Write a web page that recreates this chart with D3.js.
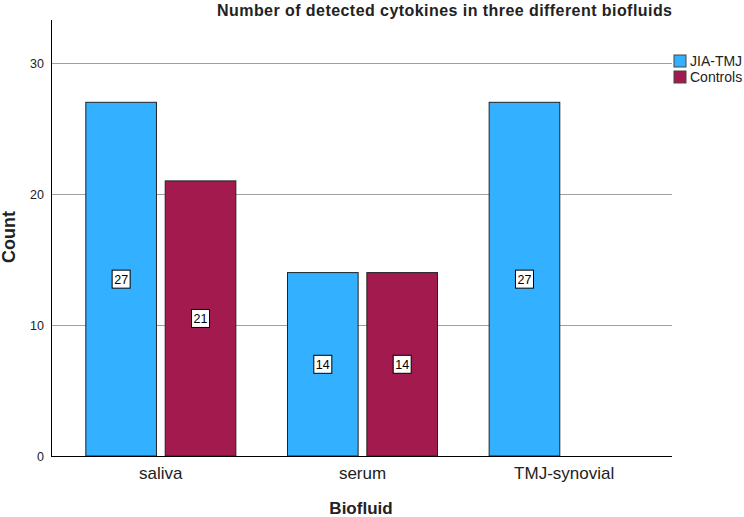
<!DOCTYPE html>
<html>
<head>
<meta charset="utf-8">
<title>Number of detected cytokines</title>
<script src="https://cdn.jsdelivr.net/npm/d3@7"></script>
<style>
  body { margin: 0; background: #fff; }
  text { font-family: "Liberation Sans", Arial, sans-serif; }
</style>
</head>
<body>
<script>
    var width = 744;
    var height = 517;

    var biofluids = ["saliva", "serum", "TMJ-synovial"];
    var groups = ["JIA-TMJ", "Controls"];
    var jiaCounts = [27, 14, 27];
    var controlCounts = [21, 14, 0];
    var yTicks = [0, 10, 20, 30];
    var colors = ["#33b0ff", "#a31a4e"];

    var rows = biofluids.map(function(b, i) {
        return { fluid: b, values: [jiaCounts[i], controlCounts[i]] };
    });

    var svg = d3.select("body")
        .append("svg")
        .attr("width", width)
        .attr("height", height);

    var axisLeft = 51, axisRight = 672, base = 456, axisTop = 20;

    var x = d3.scaleBand()
        .domain(biofluids)
        .range([60, 665])
        .paddingInner(0.256)
        .paddingOuter(0.128);
    var xs = d3.scaleBand()
        .domain(groups)
        .range([0, x.bandwidth()])
        .paddingInner(0.11);
    var y = d3.scaleLinear()
        .domain([0, (base - axisTop) / 13.1])
        .range([base, axisTop]);

    // grid
    svg.append("g")
        .selectAll("line")
        .data(yTicks.filter(function(d) { return d > 0; }))
        .enter()
        .append("line")
        .attr("x1", axisLeft)
        .attr("x2", axisRight)
        .attr("y1", function(d) { return Math.round(y(d)) + 0.5; })
        .attr("y2", function(d) { return Math.round(y(d)) + 0.5; })
        .attr("stroke", "#a0a0a0")
        .attr("stroke-width", 1);

    // bars
    var grp = svg.append("g")
        .selectAll("g")
        .data(rows)
        .enter()
        .append("g")
        .attr("transform", function(d) { return "translate(" + x(d.fluid) + ",0)"; });

    grp.selectAll("rect")
        .data(function(d) { return d.values.map(function(v, i) { return { key: groups[i], v: v, i: i }; }); })
        .enter()
        .append("rect")
        .attr("x", function(d) { return xs(d.key); })
        .attr("width", xs.bandwidth())
        .attr("y", function(d) { return y(d.v); })
        .attr("height", function(d) { return base - y(d.v); })
        .attr("fill", function(d) { return colors[d.i]; })
        .attr("stroke", function(d) { return d.v > 0 ? "#222" : "none"; })
        .attr("stroke-width", 1);

    var lab = grp.selectAll("g.lab")
        .data(function(d) { return d.values.map(function(v, i) { return { key: groups[i], v: v }; }).filter(function(d) { return d.v > 0; }); })
        .enter()
        .append("g")
        .attr("class", "lab")
        .attr("transform", function(d) {
            return "translate(" + (xs(d.key) + xs.bandwidth() / 2) + "," + y(d.v / 2) + ")";
        });
    lab.append("rect")
        .attr("x", -9).attr("y", -9)
        .attr("width", 18).attr("height", 18)
        .attr("fill", "#fff")
        .attr("stroke", "#000")
        .attr("stroke-width", 1);
    lab.append("text")
        .attr("text-anchor", "middle")
        .attr("dy", "0.36em")
        .attr("font-size", 12.5)
        .text(function(d) { return d.v; });

    // axes
    svg.append("line")
        .attr("x1", axisLeft + 0.5).attr("x2", axisLeft + 0.5)
        .attr("y1", axisTop).attr("y2", base + 0.5)
        .attr("stroke", "#000");
    svg.append("line")
        .attr("x1", axisLeft).attr("x2", axisRight)
        .attr("y1", base + 0.5).attr("y2", base + 0.5)
        .attr("stroke", "#000");

    svg.append("g")
        .selectAll("text")
        .data(yTicks)
        .enter()
        .append("text")
        .attr("x", 44)
        .attr("y", function(d) { return y(d); })
        .attr("dy", "0.36em")
        .attr("text-anchor", "end")
        .attr("font-size", 12.5)
        .attr("fill", "#222")
        .text(function(d) { return d; });

    svg.append("g")
        .selectAll("text")
        .data(biofluids)
        .enter()
        .append("text")
        .attr("x", function(d) { return x(d) + x.bandwidth() / 2; })
        .attr("y", 479)
        .attr("text-anchor", "middle")
        .attr("font-size", 17)
        .attr("fill", "#222")
        .text(function(d) { return d; });

    svg.append("text")
        .attr("x", 361)
        .attr("y", 514)
        .attr("text-anchor", "middle")
        .attr("font-size", 17)
        .attr("font-weight", "bold")
        .attr("fill", "#222")
        .text("Biofluid");

    svg.append("text")
        .attr("transform", "translate(15,237) rotate(-90)")
        .attr("text-anchor", "middle")
        .attr("font-size", 18)
        .attr("font-weight", "bold")
        .attr("fill", "#222")
        .text("Count");

    svg.append("text")
        .attr("x", 217)
        .attr("y", 16)
        .attr("font-size", 16)
        .attr("font-weight", "bold")
        .attr("fill", "#222")
        .attr("textLength", 455)
        .attr("lengthAdjust", "spacing")
        .text("Number of detected cytokines in three different biofluids");

    // legend
    var leg = svg.append("g")
        .selectAll("g")
        .data(groups)
        .enter()
        .append("g")
        .attr("transform", function(d, i) { return "translate(674," + (55 + i * 16) + ")"; });
    leg.append("rect")
        .attr("width", 12).attr("height", 12)
        .attr("fill", function(d, i) { return colors[i]; })
        .attr("stroke", "#444");
    leg.append("text")
        .attr("x", 16)
        .attr("y", 11)
        .attr("font-size", 14)
        .attr("fill", "#222")
        .text(function(d) { return d; });
</script>
</body>
</html>
